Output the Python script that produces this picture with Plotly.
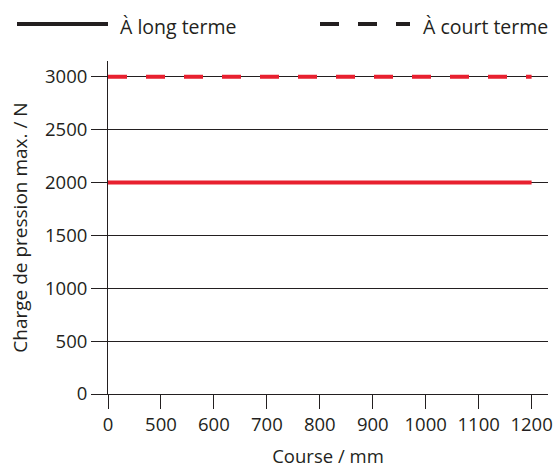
import plotly.graph_objects as go

# Data
course_labels = ["0", "500", "600", "700", "800", "900", "1000", "1100", "1200"]
long_term = [2000, 2000, 2000, 2000, 2000, 2000, 2000, 2000, 2000]
short_term = [3000, 3000, 3000, 3000, 3000, 3000, 3000, 3000, 3000]
y_ticks = [0, 500, 1000, 1500, 2000, 2500, 3000]
legend_names = ["À long terme", "À court terme"]

RED = "#e8202f"
INK = "#231f20"
FONT = "Open Sans"
FS = 18.5

x_pos = list(range(len(course_labels)))

fig = go.Figure()
fig.add_trace(go.Scatter(x=x_pos, y=long_term, mode="lines", name=legend_names[0],
                         line=dict(color=RED, width=4), showlegend=False))
fig.add_trace(go.Scatter(x=x_pos, y=short_term, mode="lines", name=legend_names[1],
                         line=dict(color=RED, width=4, dash="19px,19px"), showlegend=False))

# plot area geometry (pixels)
L, R, T, B = 108, 8, 61, 75
W, H = 556, 469
pw = W - L - R
ph = H - T - B

def px(x):
    return (x - L) / pw

def py(y):
    return (H - B - y) / ph

# custom legend
fig.add_shape(type="line", xref="paper", yref="paper", x0=px(17), x1=px(108),
              y0=py(24), y1=py(24), line=dict(color=INK, width=4))
fig.add_shape(type="line", xref="paper", yref="paper", x0=px(320), x1=px(410),
              y0=py(24), y1=py(24), line=dict(color=INK, width=4, dash="19px,19px"))
fig.add_annotation(xref="paper", yref="paper", x=px(118), y=py(26), text=legend_names[0],
                   showarrow=False, xanchor="left", yanchor="middle",
                   font=dict(family=FONT, size=19.5, color=INK))
fig.add_annotation(xref="paper", yref="paper", x=px(421), y=py(26), text=legend_names[1],
                   showarrow=False, xanchor="left", yanchor="middle",
                   font=dict(family=FONT, size=19.5, color=INK))

fig.update_layout(
    width=W, height=H,
    margin=dict(l=L, r=R, t=T, b=B, autoexpand=False),
    paper_bgcolor="white", plot_bgcolor="white",
    font=dict(family=FONT, size=FS, color=INK),
    xaxis=dict(
        range=[0, 8.31], tickmode="array", tickvals=x_pos, ticktext=course_labels,
        showline=True, linecolor=INK, linewidth=1, showgrid=False, zeroline=False,
        ticks="outside", ticklen=14, tickcolor=INK, tickwidth=1, automargin=False,
        title=dict(text="Course / mm", standoff=14, font=dict(size=FS)),
    ),
    yaxis=dict(
        range=[0, 3148], tickmode="array", tickvals=y_ticks,
        showline=True, linecolor=INK, linewidth=1,
        showgrid=True, gridcolor=INK, gridwidth=1, zeroline=False,
        ticks="outside", ticklen=16, tickcolor=INK, tickwidth=1, automargin=False,
        title=dict(text="Charge de pression max. / N", standoff=12, font=dict(size=19)),
    ),
)

fig.write_html("out.html", config={"displayModeBar": False},
               post_script="document.body.style.margin='0px';")
